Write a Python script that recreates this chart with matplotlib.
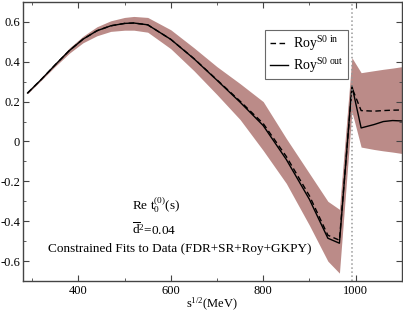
import matplotlib
matplotlib.use("Agg")
import matplotlib.pyplot as plt
from matplotlib.ticker import MultipleLocator

plt.rcParams['font.family'] = ['Liberation Serif', 'DejaVu Serif']
plt.rcParams['mathtext.fontset'] = 'custom'
plt.rcParams['mathtext.rm'] = 'Liberation Serif'
plt.rcParams['mathtext.it'] = 'Liberation Serif'

# energies (MeV)
x_left = [290, 320, 350, 380, 410, 440, 470, 500, 520, 550, 600, 650, 700, 750, 800, 850, 900, 940, 965, 992]
solid_left = [0.243, 0.312, 0.385, 0.455, 0.513, 0.555, 0.580, 0.592, 0.594, 0.585, 0.512, 0.415, 0.307, 0.197, 0.080, -0.090, -0.290, -0.485, -0.510, 0.280]
dashed_left = [0.243, 0.312, 0.385, 0.455, 0.513, 0.555, 0.580, 0.592, 0.594, 0.585, 0.512, 0.416, 0.309, 0.202, 0.090, -0.075, -0.272, -0.470, -0.495, 0.270]
upper_left = [0.245, 0.318, 0.393, 0.468, 0.528, 0.575, 0.605, 0.622, 0.627, 0.622, 0.560, 0.470, 0.375, 0.290, 0.200, 0.015, -0.160, -0.300, -0.340, 0.420]
lower_left = [0.240, 0.308, 0.377, 0.442, 0.495, 0.530, 0.552, 0.558, 0.558, 0.548, 0.465, 0.355, 0.235, 0.110, -0.045, -0.210, -0.420, -0.600, -0.660, 0.150]

x_right = [992, 1012, 1040, 1060, 1080, 1100]
solid_right = [0.280, 0.068, 0.085, 0.100, 0.105, 0.103]
dashed_right = [0.270, 0.155, 0.152, 0.155, 0.157, 0.158]
upper_right = [0.420, 0.345, 0.355, 0.362, 0.368, 0.375]
lower_right = [0.150, -0.028, -0.040, -0.047, -0.053, -0.060]

x = x_left + x_right[1:]
solid = solid_left + solid_right[1:]
dashed = dashed_left + dashed_right[1:]
upper = upper_left + upper_right[1:]
lower = lower_left + lower_right[1:]

kk_threshold = 992

fig = plt.figure(figsize=(4.03, 3.12), dpi=100)
ax = fig.add_axes([0.057, 0.099, 0.940, 0.895])

ax.fill_between(x, lower, upper, color='#bb8b88', linewidth=0)
ax.plot(x, dashed, color='black', linestyle=(0, (4, 2.5)), linewidth=1.0, label=r'Roy$^{\rm S0\ in}$')
ax.plot(x, solid, color='black', linestyle='-', linewidth=1.0, label=r'Roy$^{\rm S0\ out}$')
ax.axvline(kk_threshold, color='#999999', linestyle=':', linewidth=1.1)

ax.set_xlim(280, 1100)
ax.set_ylim(-0.7, 0.7)
ax.xaxis.set_minor_locator(MultipleLocator(100))
ax.yaxis.set_minor_locator(MultipleLocator(0.1))
ax.set_xticks([400, 600, 800, 1000])
ax.set_yticks([-0.6, -0.4, -0.2, 0, 0.2, 0.4, 0.6])
ax.set_yticklabels(['-0.6', '-0.4', '-0.2', '0', '0.2', '0.4', '0.6'])
ax.tick_params(which='both', direction='in', top=True, right=True, labelsize=9, color='#444444')
ax.tick_params(axis='y', pad=2)
ax.tick_params(axis='x', pad=3)
ax.tick_params(which='major', length=4)
ax.tick_params(which='minor', length=2.5)
for s in ax.spines.values():
    s.set_color('#444444')
    s.set_linewidth(1.0)

ax.set_xlabel(r'$\mathrm{s}^{1/2}$(MeV)', fontsize=9, labelpad=-1)

ax.text(516, -0.32, r'Re t$_0^{(0)}$(s)', fontsize=9.5, ha='left', va='center')
ax.text(516, -0.445, r'$\overline{\mathrm{d}}^2$=0.04', fontsize=9.5, ha='left', va='center')
ax.text(334, -0.54, 'Constrained Fits to Data (FDR+SR+Roy+GKPY)', fontsize=9.5, ha='left', va='center')

leg = ax.legend(loc='upper left', bbox_to_anchor=(0.64, 0.90), fontsize=10, frameon=True,
                fancybox=False, handlelength=1.3, handletextpad=0.4, borderpad=0.3,
                labelspacing=0.25, borderaxespad=0)
leg.get_frame().set_edgecolor('#444444')
leg.get_frame().set_linewidth(0.8)

fig.savefig('out.png', dpi=100)
